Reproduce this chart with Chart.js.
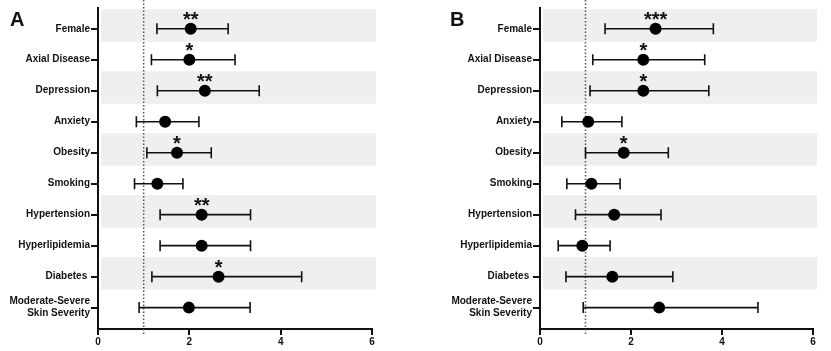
<!DOCTYPE html>
<html>
<head>
<meta charset="utf-8">
<script src="https://cdn.jsdelivr.net/npm/chart.js@4.4.1/dist/chart.umd.min.js"></script>
<style>
  html, body { margin: 0; padding: 0; background: #fff; }
  #wrap { position: relative; width: 831px; height: 351px; }
  .panel { position: absolute; top: 0; height: 351px; }
  #panelA { left: 0; width: 415px; }
  #panelB { left: 415px; width: 416px; }
</style>
</head>
<body>
<div id="wrap">
  <div class="panel" id="panelA"><canvas id="chartA"></canvas></div>
  <div class="panel" id="panelB"><canvas id="chartB"></canvas></div>
</div>
<script>
const categories = [
  "Female", "Axial Disease", "Depression", "Anxiety", "Obesity", "Smoking",
  "Hypertension", "Hyperlipidemia", "Diabetes ", ["Moderate-Severe", "Skin Severity"]
];
const shadedRows = [0, 2, 4, 6, 8];
const xTicks = [0, 2, 4, 6];
const refLine = 1;

// panel A
const oddsA = [2.03, 2.0, 2.34, 1.47, 1.73, 1.30, 2.27, 2.27, 2.64, 1.99];
const lowA = [1.29, 1.17, 1.30, 0.84, 1.07, 0.80, 1.36, 1.36, 1.18, 0.90];
const highA = [2.85, 3.0, 3.53, 2.21, 2.48, 1.86, 3.34, 3.34, 4.46, 3.33];
const starsA = ["**", "*", "**", "", "*", "", "**", "", "*", ""];

// panel B
const oddsB = [2.54, 2.27, 2.27, 1.06, 1.84, 1.13, 1.63, 0.93, 1.59, 2.62];
const lowB = [1.43, 1.16, 1.10, 0.48, 1.00, 0.59, 0.78, 0.40, 0.57, 0.95];
const highB = [3.81, 3.62, 3.71, 1.80, 2.82, 1.76, 2.66, 1.54, 2.92, 4.79];
const starsB = ["***", "*", "*", "", "*", "", "", "", "", ""];

Chart.defaults.font.family = "'Liberation Sans', Arial, sans-serif";
Chart.defaults.font.weight = "bold";
Chart.defaults.font.size = 10;
Chart.defaults.color = "#111";

const forestPlugin = {
  id: "forest",
  beforeDatasetsDraw(chart, args, opts) {
    const { ctx, chartArea } = chart;
    const xs = chart.scales.x;
    const ys = chart.scales.y;
    ctx.save();
    // shaded rows
    ctx.fillStyle = "#efefef";
    shadedRows.forEach((r) => {
      const top = ys.getPixelForValue(r - 0.63);
      const bot = ys.getPixelForValue(r + 0.42);
      ctx.fillRect(chartArea.left + 3, top, chartArea.right + 4 - (chartArea.left + 3), bot - top);
    });
    // reference line at 1
    const rx = xs.getPixelForValue(refLine);
    ctx.strokeStyle = "#555";
    ctx.lineWidth = 1.5;
    ctx.setLineDash([1.5, 2]);
    ctx.beginPath();
    ctx.moveTo(rx, chartArea.top - 8);
    ctx.lineTo(rx, chartArea.bottom + 6);
    ctx.stroke();
    ctx.setLineDash([]);
    // error bars
    ctx.strokeStyle = "#111";
    ctx.lineWidth = 1.6;
    opts.low.forEach((lo, i) => {
      const y = ys.getPixelForValue(i);
      const x1 = xs.getPixelForValue(lo);
      const x2 = xs.getPixelForValue(opts.high[i]);
      ctx.beginPath();
      ctx.moveTo(x1, y);
      ctx.lineTo(x2, y);
      ctx.moveTo(x1, y - 5.5);
      ctx.lineTo(x1, y + 5.5);
      ctx.moveTo(x2, y - 5.5);
      ctx.lineTo(x2, y + 5.5);
      ctx.stroke();
    });
    ctx.restore();
  },
  afterDatasetsDraw(chart, args, opts) {
    const { ctx } = chart;
    const xs = chart.scales.x;
    const ys = chart.scales.y;
    ctx.save();
    ctx.fillStyle = "#111";
    ctx.textAlign = "center";
    ctx.textBaseline = "alphabetic";
    ctx.font = "bold 20px 'Liberation Sans', Arial, sans-serif";
    opts.stars.forEach((s, i) => {
      if (!s) return;
      ctx.fillText(s, xs.getPixelForValue(opts.odds[i]), ys.getPixelForValue(i) - 2.5);
    });
    // panel letter
    ctx.textAlign = "left";
    ctx.font = "bold 20px 'Liberation Sans', Arial, sans-serif";
    ctx.fillText(opts.letter, opts.letterX, 26);
    ctx.restore();
  },
};

function createChart(id, letter, letterX, odds, low, high, stars, axisLeft, rightPad) {
  const ctx = document.getElementById(id);
  return new Chart(ctx, {
    type: "scatter",
    data: {
      datasets: [
        {
          data: odds.map((v, i) => ({ x: v, y: i })),
          pointRadius: 6,
          pointHoverRadius: 6,
          backgroundColor: "#000",
          borderColor: "#000",
          borderWidth: 0,
        },
      ],
    },
    options: {
      responsive: true,
      maintainAspectRatio: false,
      animation: false,
      events: [],
      layout: { padding: { top: 8, right: rightPad, bottom: 0, left: 0 } },
      plugins: {
        legend: { display: false },
        tooltip: { enabled: false },
        forest: { letter, letterX, odds, low, high, stars },
      },
      scales: {
        x: {
          type: "linear",
          min: 0,
          max: 6,
          afterBuildTicks: (axis) => {
            axis.ticks = xTicks.map((v) => ({ value: v }));
          },
          afterFit: (axis) => {
            axis.height = 22;
            axis.paddingLeft = 0;
            axis.paddingRight = 0;
          },
          ticks: { padding: 1, font: { size: 10, weight: "bold" }, color: "#111" },
          grid: { drawOnChartArea: false, tickLength: 6, lineWidth: 2, color: "#111" },
          border: { width: 2, color: "#111" },
        },
        y: {
          type: "linear",
          reverse: true,
          min: -0.67,
          max: 9.69,
          afterBuildTicks: (axis) => {
            axis.ticks = categories.map((c, i) => ({ value: i }));
          },
          afterFit: (axis) => {
            axis.width = axisLeft;
            axis.paddingTop = 0;
            axis.paddingBottom = 0;
          },
          ticks: {
            callback: (v) => categories[v],
            padding: 1,
            font: { size: 10, weight: "bold" },
            color: "#111",
          },
          grid: { drawOnChartArea: false, tickLength: 7, lineWidth: 2, color: "#111" },
          border: { width: 2, color: "#111" },
        },
      },
    },
    plugins: [forestPlugin],
  });
}

createChart("chartA", "A", 10, oddsA, lowA, highA, starsA, 98, 43);
createChart("chartB", "B", 35, oddsB, lowB, highB, starsB, 125, 18);
</script>
</body>
</html>
